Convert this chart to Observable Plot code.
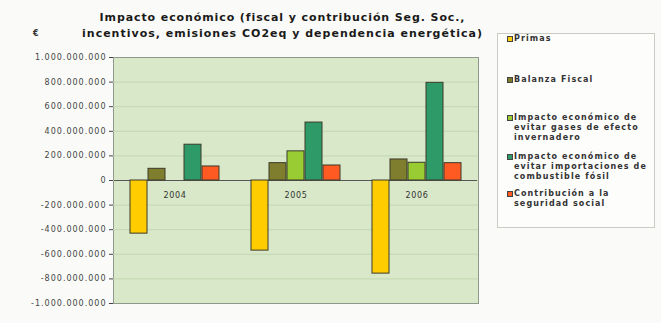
<!DOCTYPE html>
<html><head><meta charset="utf-8">
<script src="https://cdn.jsdelivr.net/npm/d3@7"></script>
<script src="https://cdn.jsdelivr.net/npm/@observablehq/plot@0.6"></script>
<style>
body{margin:0;background:#fafbf8;}
#wrap{position:relative;width:661px;height:323px;background:#fafbf8;font-family:"DejaVu Sans",sans-serif;overflow:hidden;}
#wrap svg{position:absolute;left:0;top:0;}
.title{position:absolute;left:30px;width:505px;top:10px;text-align:center;font-weight:bold;font-size:11px;line-height:16px;color:#1a1a1a;white-space:nowrap;}
.title .l1{letter-spacing:0.9px;}
.title .l2{letter-spacing:1.0px;}
.euro{position:absolute;left:33px;top:29px;font-size:8px;font-weight:bold;color:#333;}
.legend{position:absolute;left:497px;top:33px;width:158px;height:195px;border:1px solid #c9cbc5;background:#fdfdfc;box-sizing:border-box;}
.item{position:absolute;left:9px;font-size:8px;line-height:10px;color:#333;font-weight:bold;letter-spacing:1.1px;width:148px;white-space:nowrap;}
.item .sw{position:absolute;left:0;top:1.5px;width:4px;height:4px;border:1px solid #444;}
.item .tx{margin-left:7px;}
</style>
</head><body>
<div id="wrap">
  <div class="title" id="title"></div>
  <div class="euro">€</div>
  <div class="legend" id="legend"></div>
</div>
<script>
const years = ["2004", "2005", "2006"];
const series = [
  "Primas",
  "Balanza Fiscal",
  "Impacto económico de evitar gases de efecto invernadero",
  "Impacto económico de evitar importaciones de combustible fósil",
  "Contribución a la seguridad social"
];
const legendLines = [
  ["Primas"],
  ["Balanza Fiscal"],
  ["Impacto económico de", "evitar gases de efecto", "invernadero"],
  ["Impacto económico de", "evitar importaciones de", "combustible fósil"],
  ["Contribución a la", "seguridad social"]
];
const primas        = [-432e6, -570e6, -757e6];
const balanza       = [95e6, 141e6, 171e6];
const gases         = [0, 237e6, 144e6];
const combustible   = [291e6, 471e6, 794e6];
const contribucion  = [114e6, 122e6, 141e6];
const colors = ["#ffcc00", "#7f7d2e", "#99cc33", "#2e9a68", "#ff5a22"];
const yTicks = [-1e9, -8e8, -6e8, -4e8, -2e8, 0, 2e8, 4e8, 6e8, 8e8, 1e9];
const titleLines = [
  "Impacto económico (fiscal y contribución Seg. Soc.,",
  "incentivos, emisiones CO2eq y dependencia energética)"
];

const seriesValues = [primas, balanza, gases, combustible, contribucion];
const table = [];
years.forEach((yr, i) => series.forEach((s, j) => table.push({year: yr, series: s, value: seriesValues[j][i]})));

const fmt = d3.formatLocale({decimal: ",", thousands: ".", grouping: [3], currency: ["", ""], minus: "-"}).format(",.0f");

const common = {width: 661, height: 323, marginLeft: 113, marginRight: 183, marginTop: 57, marginBottom: 20};

const bg = Plot.plot({
  ...common,
  style: {background: "transparent", fontFamily: "DejaVu Sans", fontSize: "8px", color: "#444", letterSpacing: "1px"},
  y: {domain: [-1e9, 1e9], ticks: yTicks, tickFormat: fmt, label: null, tickSize: 4, tickPadding: 3, line: true},
  marks: [
    Plot.frame({fill: "#d8e8c8", stroke: "#8f988c"}),
    Plot.ruleY(yTicks.filter(t => Math.abs(t) < 1e9), {stroke: "#c3d7b2", strokeWidth: 1})
  ]
});

const fg = Plot.plot({
  ...common,
  style: {background: "transparent", fontFamily: "DejaVu Sans", fontSize: "8px", color: "#333", letterSpacing: "0.7px"},
  facet: {data: table, x: "year"},
  fx: {domain: years, padding: 0, axis: null},
  x: {domain: series, paddingInner: 0.05, paddingOuter: 0.83, axis: null},
  y: {domain: [-1e9, 1e9], axis: null},
  color: {domain: series, range: colors},
  marks: [
    Plot.ruleY([0], {stroke: "#555"}),
    Plot.barY(table, {x: "series", y: "value", fill: "series", stroke: "#3b3a2a", strokeWidth: 1}),
    Plot.text(table, {filter: d => d.series === series[0], text: "year", y: () => 0, dy: 15, fill: "#333"})
  ]
});

const wrap = document.getElementById("wrap");
wrap.insertBefore(fg, wrap.firstChild);
wrap.insertBefore(bg, wrap.firstChild);

document.getElementById("title").innerHTML = titleLines.map((t, i) => `<span class="l${i + 1}">${t}</span>`).join("<br>");

const tops = [0, 41, 79, 118, 155];
const legend = document.getElementById("legend");
legendLines.forEach((lines, i) => {
  const it = document.createElement("div");
  it.className = "item";
  it.style.top = tops[i] + "px";
  it.innerHTML = `<div class="sw" style="background:${colors[i]}"></div><div class="tx">${lines.join("<br>")}</div>`;
  legend.appendChild(it);
});
</script>
</body></html>
